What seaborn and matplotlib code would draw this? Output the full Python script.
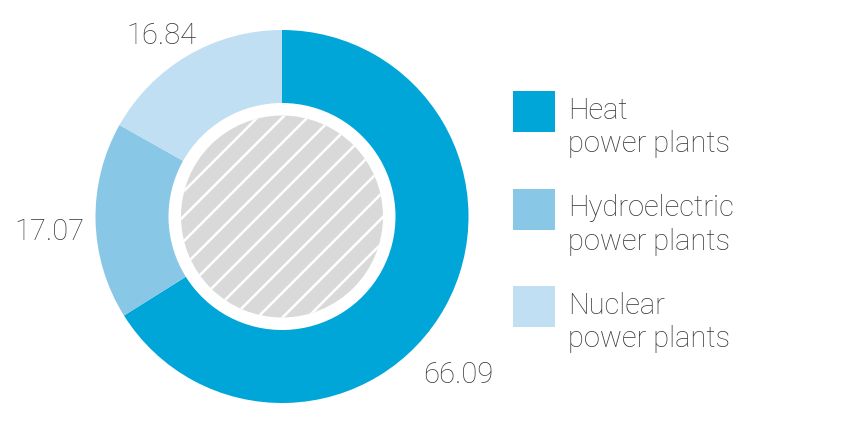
import matplotlib
matplotlib.use("Agg")
import matplotlib.pyplot as plt
import seaborn as sns
from matplotlib.patches import Circle, Rectangle

# ---- data ----
categories = ["Heat\npower plants", "Hydroelectric\npower plants", "Nuclear\npower plants"]
values = [66.09, 17.07, 16.84]
value_labels = ["66.09", "17.07", "16.84"]
colors = ["#00a6d8", "#89c7e7", "#c0dff3"]

sns.set_theme(style="white")
plt.rcParams["font.family"] = ["Roboto", "DejaVu Sans"]
plt.rcParams["hatch.linewidth"] = 2.4

DPI = 75
W, H = 846, 430
fig = plt.figure(figsize=(W / DPI, H / DPI), dpi=DPI)
ax = fig.add_axes([0, 0, 1, 1])

cx, cy = 282, H - 216.5
R_out, R_in, R_hatch = 186.5, 113.5, 101

wedges, _ = ax.pie(values, colors=colors, startangle=90, counterclock=False,
                   center=(cx, cy), radius=R_out,
                   wedgeprops=dict(width=R_out - R_in, linewidth=0))
ax.set_xlim(0, W)
ax.set_ylim(0, H)
ax.set_aspect("equal")
ax.axis("off")

ax.add_patch(Circle((cx, cy), R_hatch, facecolor="#d9d9d9", edgecolor="white",
                    hatch="/", linewidth=0))

txt_color = "#3a3a3a"
fs = 28
label_pos = [(458.5, H - 383), (49.5, H - 240), (161.5, H - 44)]
for (x, y), t in zip(label_pos, value_labels):
    ax.text(x, y, t, ha="center", va="baseline", fontsize=fs,
            fontweight="light", color=txt_color)

# ---- legend ----
for i, (lab, c) in enumerate(zip(categories, colors)):
    top = 91 + i * 97.5
    ax.add_patch(Rectangle((513, H - top - 41), 42, 41, facecolor=c, linewidth=0))
    for j, line in enumerate(lab.split("\n")):
        ax.text(568, H - (119 + i * 97.5 + j * 33), line, ha="left", va="baseline",
                fontsize=fs, fontweight="light", color=txt_color)

fig.savefig("out.png", dpi=DPI, facecolor="white")
